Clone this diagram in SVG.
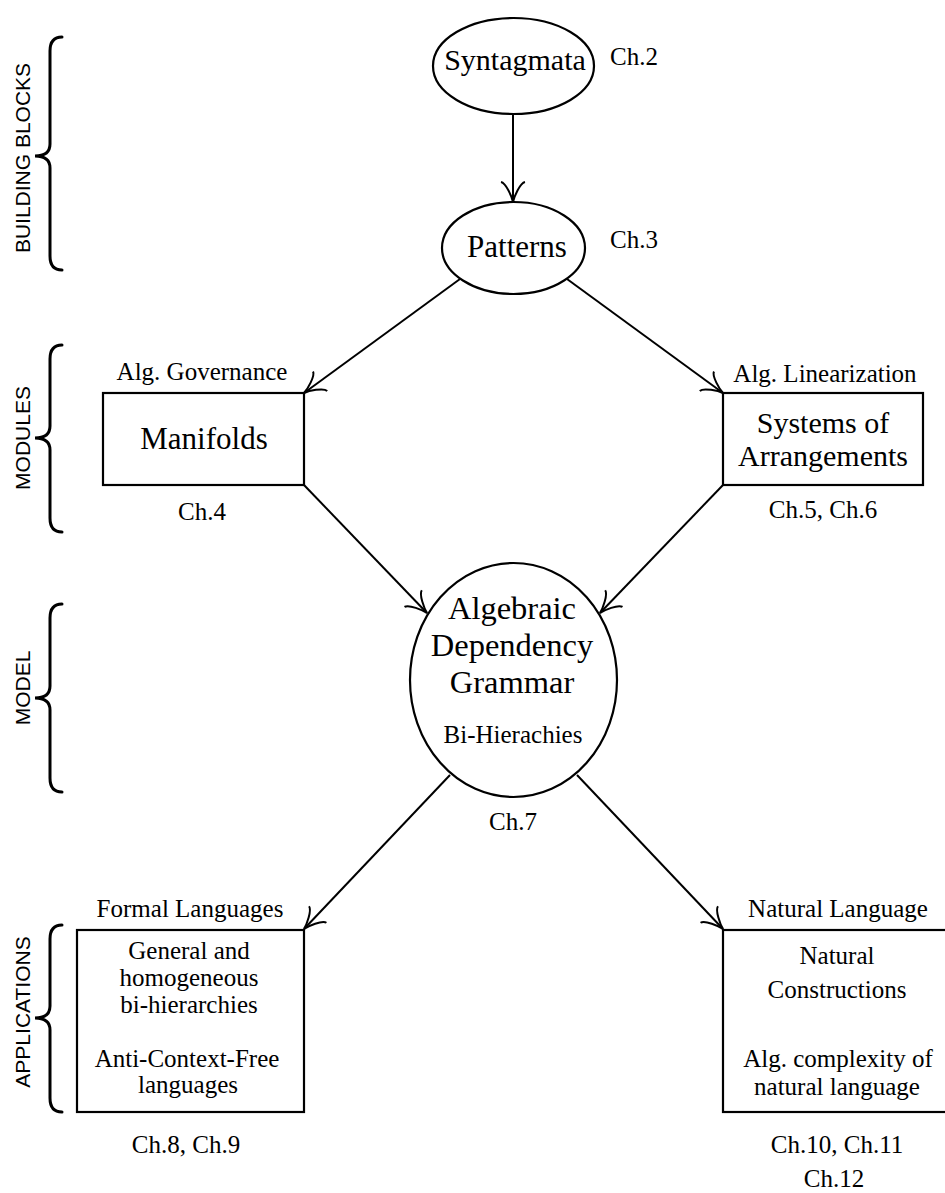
<svg xmlns="http://www.w3.org/2000/svg" width="945" height="1193" viewBox="0 0 945 1193">
<style>
.shape{fill:none;stroke:#000;stroke-width:2.2}
.edge{fill:none;stroke:#000;stroke-width:2}
.brace{fill:none;stroke:#000;stroke-width:3;stroke-linecap:round}
.serif{font-family:"Liberation Serif","Times New Roman",serif;fill:#000}
.big{font-size:31px;text-anchor:middle}
.small{font-size:25px}
.mid{text-anchor:middle}
.side{font-family:"Liberation Sans",Arial,sans-serif;font-size:21px;text-anchor:middle;fill:#000}
</style>
<defs>
<marker id="arr" markerUnits="userSpaceOnUse" orient="auto" viewBox="-24 -16 28 32" refX="0" refY="0" markerWidth="28" markerHeight="32">
<path d="M -20 -12 C -19 -7 -5 -1 0 0 C -5 1 -19 7 -20 12" fill="none" stroke="#000" stroke-width="2"/>
</marker>
</defs>
<rect width="945" height="1193" fill="#fff"/>

<g id="sections">
<path class="brace" d="M 62 37 Q 50 37 50 51 L 50 144 Q 50 156 35 156 Q 50 156 50 168 L 50 256 Q 50 270 62 270"/>
<text class="side" transform="translate(30,158) rotate(-90)">BUILDING BLOCKS</text>
<path class="brace" d="M 62 345 Q 50 345 50 359 L 50 426 Q 50 438 35 438 Q 50 438 50 450 L 50 518 Q 50 532 62 532"/>
<text class="side" transform="translate(30,438) rotate(-90)">MODULES</text>
<path class="brace" d="M 62 604 Q 50 604 50 618 L 50 686 Q 50 698 35 698 Q 50 698 50 710 L 50 778 Q 50 792 62 792"/>
<text class="side" transform="translate(30,688) rotate(-90)">MODEL</text>
<path class="brace" d="M 62 925 Q 50 925 50 939 L 50 1006 Q 50 1018 35 1018 Q 50 1018 50 1030 L 50 1098 Q 50 1112 62 1112"/>
<text class="side" transform="translate(30,1012) rotate(-90)">APPLICATIONS</text>
</g>

<g id="connectors">
<line class="edge" x1="513" y1="114" x2="513" y2="202" marker-end="url(#arr)"/>
<line class="edge" x1="460" y1="279" x2="304" y2="393" marker-end="url(#arr)"/>
<line class="edge" x1="567" y1="279" x2="723" y2="393" marker-end="url(#arr)"/>
<line class="edge" x1="304" y1="485" x2="427" y2="613" marker-end="url(#arr)"/>
<line class="edge" x1="723" y1="485" x2="600" y2="613" marker-end="url(#arr)"/>
<line class="edge" x1="450" y1="775" x2="304" y2="929" marker-end="url(#arr)"/>
<line class="edge" x1="577" y1="775" x2="723" y2="929" marker-end="url(#arr)"/>
</g>

<g id="syntagmata">
<ellipse class="shape" cx="513.5" cy="66" rx="80.5" ry="48"/>
<text class="serif" x="515" y="70" style="font-size:30px;text-anchor:middle">Syntagmata</text>
<text class="serif small" x="610" y="65">Ch.2</text>
</g>

<g id="patterns">
<ellipse class="shape" cx="513.5" cy="248" rx="71.5" ry="46"/>
<text class="serif big" x="517" y="257">Patterns</text>
<text class="serif small" x="610" y="248">Ch.3</text>
</g>

<g id="manifolds">
<rect class="shape" x="103" y="393" width="201" height="92"/>
<text class="serif small mid" x="202" y="380">Alg. Governance</text>
<text class="serif big" x="204" y="449">Manifolds</text>
<text class="serif small mid" x="202" y="520">Ch.4</text>
</g>

<g id="arrangements">
<rect class="shape" x="723" y="393" width="200" height="92"/>
<text class="serif small mid" x="825" y="382">Alg. Linearization</text>
<text class="serif" x="823" y="433" style="font-size:30px;text-anchor:middle">Systems of</text>
<text class="serif" x="823" y="466" style="font-size:30px;text-anchor:middle">Arrangements</text>
<text class="serif small mid" x="823" y="518">Ch.5, Ch.6</text>
</g>

<g id="adg">
<ellipse class="shape" cx="513.5" cy="680" rx="103.5" ry="117"/>
<text class="serif" x="512" y="619" style="font-size:32.5px;text-anchor:middle">Algebraic</text>
<text class="serif" x="512" y="656" style="font-size:32.5px;text-anchor:middle">Dependency</text>
<text class="serif" x="512" y="693" style="font-size:32.5px;text-anchor:middle">Grammar</text>
<text class="serif small mid" x="513" y="743">Bi-Hierachies</text>
<text class="serif small mid" x="513" y="830">Ch.7</text>
</g>

<g id="formal">
<rect class="shape" x="77" y="930" width="227" height="182"/>
<text class="serif small mid" x="190" y="917">Formal Languages</text>
<text class="serif small mid" x="189" y="959">General and</text>
<text class="serif small mid" x="189" y="986">homogeneous</text>
<text class="serif small mid" x="189" y="1013">bi-hierarchies</text>
<text class="serif small mid" x="187" y="1067">Anti-Context-Free</text>
<text class="serif small mid" x="188" y="1093">languages</text>
<text class="serif small mid" x="186" y="1153">Ch.8, Ch.9</text>
</g>

<g id="natural">
<rect class="shape" x="723" y="930" width="232" height="182"/>
<text class="serif small mid" x="838" y="917">Natural Language</text>
<text class="serif small mid" x="837" y="964">Natural</text>
<text class="serif small mid" x="837" y="998">Constructions</text>
<text class="serif small mid" x="838" y="1067">Alg. complexity of</text>
<text class="serif small mid" x="837" y="1095">natural language</text>
<text class="serif small mid" x="837" y="1153">Ch.10, Ch.11</text>
<text class="serif small mid" x="834" y="1187">Ch.12</text>
</g>
</svg>
